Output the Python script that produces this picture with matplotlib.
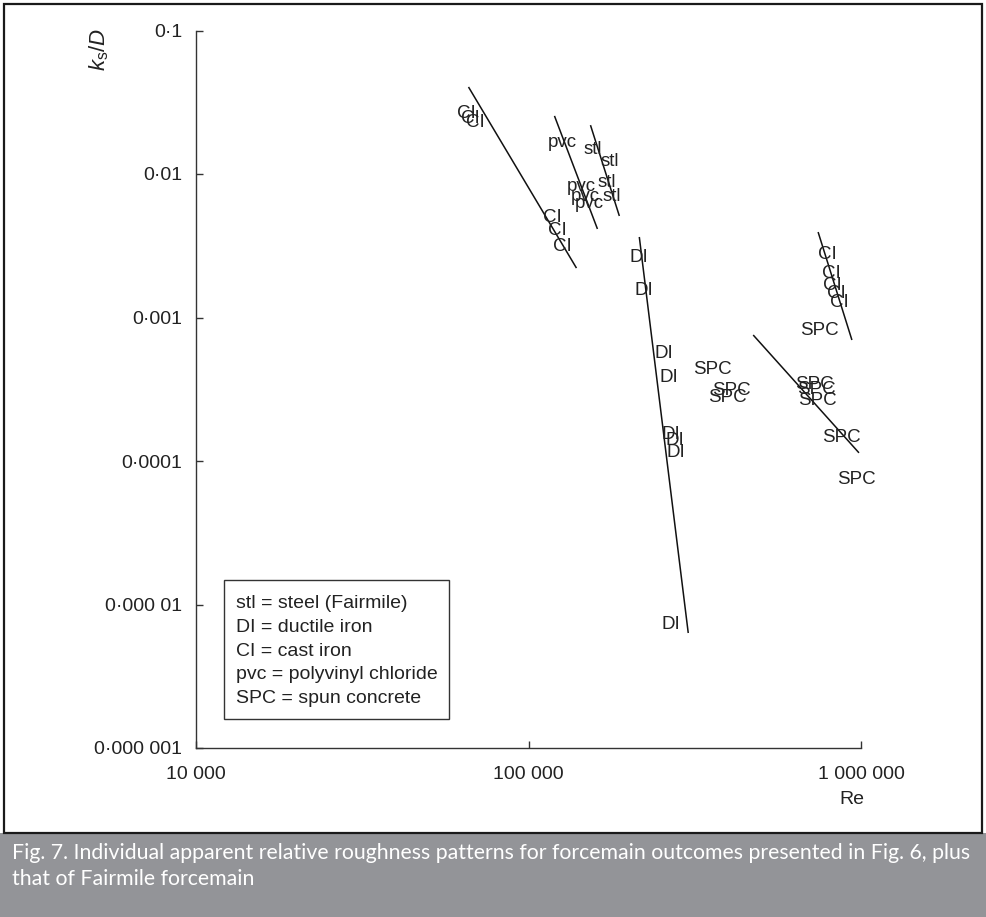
import matplotlib
matplotlib.use("Agg")
import matplotlib.pyplot as plt
from matplotlib.patches import Rectangle

plt.rcParams['font.family'] = ['Liberation Sans', 'DejaVu Sans']
plt.rcParams['mathtext.fontset'] = 'custom'
plt.rcParams['mathtext.rm'] = 'Liberation Sans'
plt.rcParams['mathtext.it'] = 'Liberation Sans:italic'

# apparent relative roughness points (Re, ks/D), one list per pipe material
stl_re = [155700, 175000, 171500, 177600]
stl_ks = [0.0147, 0.0123, 0.00866, 0.00692]

pvc_re = [126500, 144300, 148400, 152500]
pvc_ks = [0.0167, 0.00812, 0.00692, 0.00618]

ci_re = [65100, 66900, 69300, 118000, 122200, 126500,
         790000, 813000, 818000, 841000, 859000]
ci_ks = [0.0266, 0.0245, 0.0227, 0.00501, 0.00407, 0.00310,
         0.00273, 0.00204, 0.00168, 0.00148, 0.00128]

di_re = [215400, 223000, 255900, 265000, 268700, 276300, 278200, 268700]
di_ks = [0.00260, 0.00153, 0.000557, 0.000379, 0.000152, 0.000140, 0.000114, 7.31e-6]

spc_re = [357000, 407000, 396000, 748000, 722000, 732000, 737000, 871000, 966000]
spc_ks = [0.000431, 0.000308, 0.000275, 0.000818, 0.000344, 0.000313, 0.000262,
          0.000145, 7.38e-5]

# fitted trend lines: start/end Re and ks/D
fit_re = [[66000, 139400], [119700, 161200], [153600, 187600],
          [215400, 302300], [474000, 986000], [743000, 939000]]
fit_ks = [[0.0404, 0.00221], [0.0254, 0.00414], [0.0219, 0.00510],
          [0.00364, 6.33e-6], [0.000755, 0.000114], [0.00394, 0.000697]]

x_ticks = [1e4, 1e5, 1e6]
x_labels = ['10 000', '100 000', '1 000 000']
y_ticks = [1e-6, 1e-5, 1e-4, 1e-3, 1e-2, 1e-1]
y_labels = ['0·000 001', '0·000 01', '0·0001', '0·001', '0·01', '0·1']

legend_lines = ['stl = steel (Fairmile)', 'DI = ductile iron', 'CI = cast iron',
                'pvc = polyvinyl chloride', 'SPC = spun concrete']

caption = ('Fig. 7. Individual apparent relative roughness patterns for forcemain outcomes presented in Fig. 6, plus\n'
           'that of Fairmile forcemain')

W, H = 987, 917
fig = plt.figure(figsize=(W / 100, H / 100), dpi=100)

# frame and caption band
fig.patches.append(Rectangle((0, 0), 1, 84 / H, transform=fig.transFigure,
                             facecolor='#939498', edgecolor='none', zorder=0))
fig.patches.append(Rectangle((4 / W, 84 / H), (982 - 4) / W, (913 - 84) / H,
                             transform=fig.transFigure, facecolor='none',
                             edgecolor='#1a1a1a', linewidth=1.6, zorder=1))
fig.text(12 / W, 1 - 866 / H, caption, color='white', fontsize=15.3,
         family=['Lato', 'DejaVu Sans'], ha='left', va='center', linespacing=1.38)

ax = fig.add_axes([196 / W, 1 - 748 / H, (861 - 196) / W, (748 - 30.5) / H])
ax.set_xscale('log')
ax.set_yscale('log')
ax.set_xlim(1e4, 1e6)
ax.set_ylim(1e-6, 1e-1)

for s in ['top', 'right']:
    ax.spines[s].set_visible(False)
for s in ['left', 'bottom']:
    ax.spines[s].set_color('#333333')
    ax.spines[s].set_linewidth(1.0)

ax.set_xticks(x_ticks)
ax.set_xticklabels(x_labels)
ax.set_yticks(y_ticks)
ax.set_yticklabels(y_labels)
ax.minorticks_off()
ax.tick_params(direction='in', length=5, width=1.0, color='#333333',
               labelsize=14, labelcolor='#222222')
ax.tick_params(axis='y', pad=10)
ax.tick_params(axis='x', pad=13)

for xs, ys in zip(fit_re, fit_ks):
    ax.plot(xs, ys, color='#111111', linewidth=1.1, solid_capstyle='butt')

groups = [('stl', stl_re, stl_ks), ('pvc', pvc_re, pvc_ks), ('CI', ci_re, ci_ks),
          ('DI', di_re, di_ks), ('SPC', spc_re, spc_ks)]
for name, xs, ys in groups:
    for x, y in zip(xs, ys):
        ax.text(x, y, name, ha='center', va='center', fontsize=13.5, color='#222222')

# legend box
fig.patches.append(Rectangle((224 / W, 1 - 719 / H), (449 - 224) / W, (719 - 580) / H,
                             transform=fig.transFigure, facecolor='white',
                             edgecolor='#333333', linewidth=1.0, zorder=3))
for i, line in enumerate(legend_lines):
    fig.text(236 / W, 1 - (604 + i * 23.6) / H, line, fontsize=14, color='#222222',
             ha='left', va='center', zorder=4)

fig.text(99 / W, 1 - 49 / H, r'$k_{\rm s}/D$', rotation=90, fontsize=16,
         color='#222222', ha='center', va='center')
fig.text(852 / W, 1 - 800 / H, 'Re', fontsize=14, color='#222222',
         ha='center', va='center')

fig.savefig('out.png', dpi=100)
